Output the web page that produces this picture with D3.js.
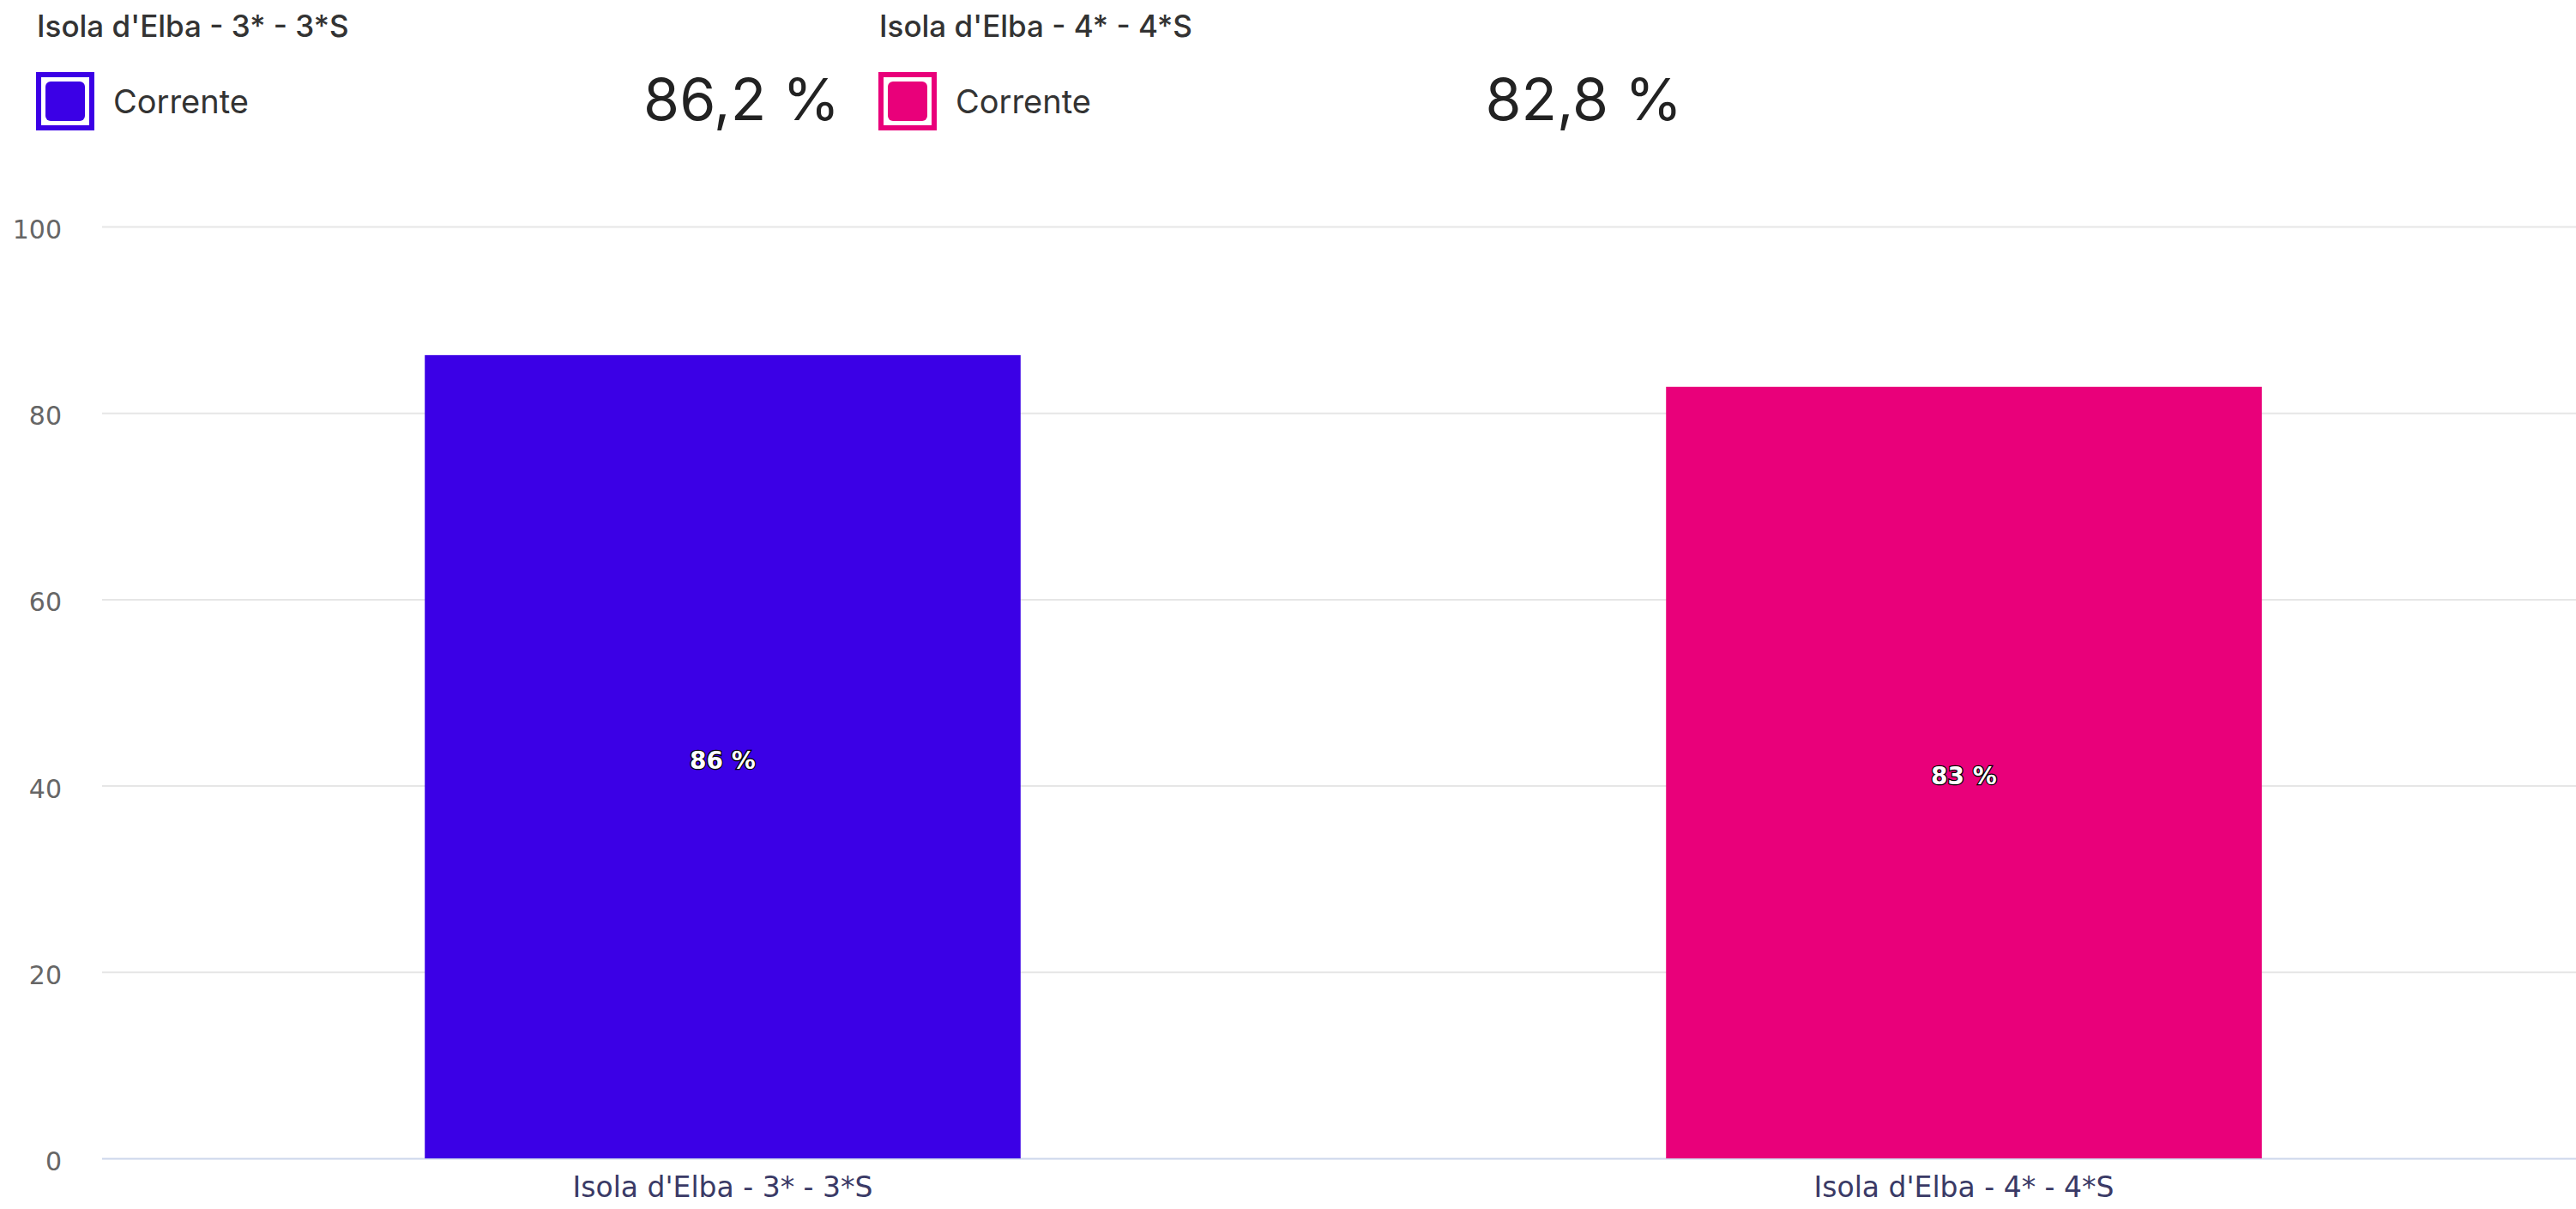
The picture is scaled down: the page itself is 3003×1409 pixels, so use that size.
<!DOCTYPE html>
<html>
<head>
<meta charset="utf-8">
<script src="https://cdn.jsdelivr.net/npm/d3@7"></script>
<style>
  body { margin: 0; background: #ffffff; }
  svg { display: block; }
</style>
</head>
<body>
<div id="chart"></div>
<script>
// chart data
var categories = ["Isola d'Elba - 3* - 3*S", "Isola d'Elba - 4* - 4*S"];
var values = [86.2, 82.8];
var colors = ["#3b00e6", "#e9007a"];
var seriesName = "Corrente";
var yTicks = [0, 20, 40, 60, 80, 100];

var width = 3003, height = 1409;
var margin = {top: 264, right: -10, bottom: 59, left: 119};

var svg = d3.select("#chart").append("svg")
    .attr("width", width)
    .attr("height", height);

// header: one block per category with legend box and the exact value
var fmt = function(v) { return d3.format(".1f")(v).replace(".", ",") + " %"; };
var header = svg.selectAll("g.head").data(categories)
    .enter().append("g")
    .attr("class", "head")
    .attr("transform", function(d, i) { return "translate(" + (43 + i * 982) + ",0)"; });

header.append("text")
    .attr("x", 0).attr("y", 43)
    .style("font-family", "Inter, 'Noto Sans', sans-serif")
    .style("font-size", "35px")
    .style("font-weight", 500)
    .attr("fill", "#333")
    .text(function(d) { return d; });

header.append("rect")
    .attr("x", 2).attr("y", 87)
    .attr("width", 62).attr("height", 62)
    .attr("fill", "#fff")
    .attr("stroke", function(d, i) { return colors[i]; })
    .attr("stroke-width", 6);

header.append("rect")
    .attr("x", 10).attr("y", 95)
    .attr("width", 46).attr("height", 46)
    .attr("rx", 6)
    .attr("fill", function(d, i) { return colors[i]; });

header.append("text")
    .attr("x", 89).attr("y", 132)
    .style("font-family", "Inter, 'Noto Sans', sans-serif")
    .style("font-size", "38px")
    .attr("fill", "#333")
    .text(seriesName);

header.append("text")
    .attr("x", 936).attr("y", 140)
    .attr("text-anchor", "end")
    .style("font-family", "Inter, 'Noto Sans', sans-serif")
    .style("font-size", "68px")
    .attr("fill", "#222")
    .text(function(d, i) { return fmt(values[i]); });

// scales
var x = d3.scaleBand()
    .domain(categories)
    .range([margin.left, width - margin.right])
    .paddingInner(0.52)
    .paddingOuter(0.26);

var y = d3.scaleLinear()
    .domain([0, 100])
    .range([height - margin.bottom, margin.top]);

// gridlines + y labels
var yAxis = svg.append("g")
    .attr("transform", "translate(" + margin.left + ",0)")
    .call(d3.axisLeft(y).tickValues(yTicks).tickSize(-(width - margin.left)).tickPadding(47));

yAxis.select(".domain").remove();
yAxis.selectAll(".tick line")
    .attr("stroke", function(d) { return d === 0 ? "#ccd6eb" : "#e6e6e6"; })
    .attr("stroke-width", 2);
yAxis.selectAll(".tick text")
    .style("font-family", "'DejaVu Sans', Verdana, sans-serif")
    .style("font-size", "30px")
    .attr("fill", "#666")
    .attr("dy", "0.45em");

// bars
svg.selectAll("rect.bar").data(values)
    .enter().append("rect")
    .attr("class", "bar")
    .attr("x", function(d, i) { return x(categories[i]); })
    .attr("y", function(d) { return y(d); })
    .attr("width", x.bandwidth())
    .attr("height", function(d) { return y(0) - y(d); })
    .attr("fill", function(d, i) { return colors[i]; });

// data labels in the middle of each bar
svg.selectAll("text.dl").data(values)
    .enter().append("text")
    .attr("class", "dl")
    .attr("x", function(d, i) { return x(categories[i]) + x.bandwidth() / 2; })
    .attr("y", function(d) { return (y(d) + y(0)) / 2 + 14; })
    .attr("text-anchor", "middle")
    .style("font-family", "'DejaVu Sans', Verdana, sans-serif")
    .style("font-size", "28px")
    .style("font-weight", "bold")
    .attr("fill", "#fff")
    .attr("stroke", "#000")
    .attr("stroke-width", 2.5)
    .attr("paint-order", "stroke")
    .text(function(d) { return Math.round(d) + " %"; });

// baseline + category labels
var xAxis = svg.append("g")
    .attr("transform", "translate(0," + y(0) + ")")
    .call(d3.axisBottom(x).tickSize(0).tickPadding(22));

xAxis.select(".domain").remove();
xAxis.selectAll(".tick text")
    .style("font-family", "'DejaVu Sans', Verdana, sans-serif")
    .style("font-size", "33px")
    .attr("fill", "#3a3a66");
</script>
</body>
</html>
